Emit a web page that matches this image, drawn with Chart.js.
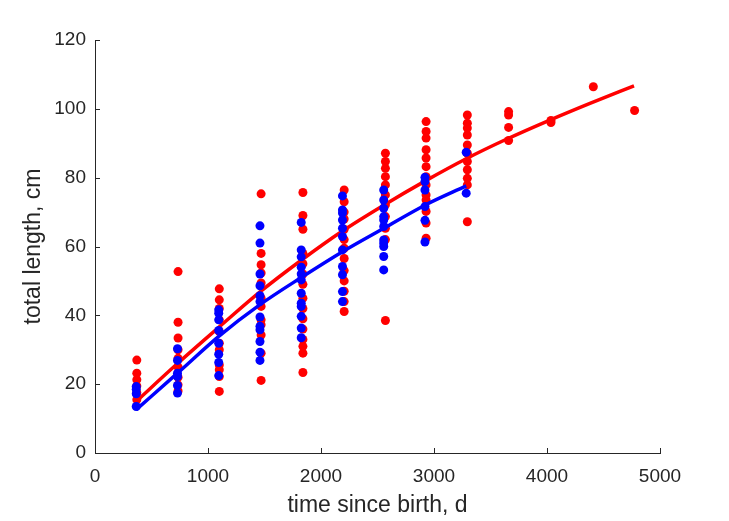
<!DOCTYPE html>
<html lang="en">
<head>
<meta charset="UTF-8">
<title>Total length vs time since birth</title>
<script src="https://cdn.jsdelivr.net/npm/chart.js"></script>
<style>
    html, body { margin: 0; padding: 0; background: #fff; }
    #wrap { width: 729px; height: 521px; }
</style>
</head>
<body>
<div id="wrap"><canvas id="growthChart"></canvas></div>
<script>
// sampling ages (days) and measured lengths (cm), one inner list per age
const redAges = [370, 735, 1100, 1470, 1840, 2205, 2570, 2930, 3295, 3660, 4035, 4410, 4775];
const redLengths = [
    [27, 23.2, 21.3, 19.5, 17.5, 15.5],
    [52.7, 38, 33.4, 30, 27.5, 25, 22, 19.8, 18],
    [47.7, 44.5, 42, 38.7, 35.3, 31.9, 30, 25.6, 24.2, 22.2, 17.9],
    [75.3, 58, 54.7, 52.3, 49.4, 45, 42.6, 38.7, 37.3, 34.3, 29, 21.1],
    [75.7, 69, 65, 58, 55, 52, 49, 45, 42, 39, 36, 33, 31, 29, 23.4],
    [76.4, 73, 70, 68, 65, 62, 59.5, 56.5, 53, 50, 47, 44, 41.1],
    [87.1, 84.7, 82.7, 80.3, 77.9, 75, 72.1, 68.7, 65.3, 62, 38.5],
    [96.3, 93.4, 91.5, 88.1, 85.7, 83.2, 80.3, 77.9, 75, 73.5, 70.2, 66.8, 62.4],
    [98.2, 95.8, 94.4, 92.4, 89.5, 87.1, 84.7, 82.3, 79.8, 77.9, 67.2],
    [99.2, 98.2, 94.6, 90.8],
    [96.6, 96],
    [106.4],
    [99.5]
];
const blueAges = [365, 730, 1095, 1460, 1825, 2190, 2555, 2920, 3285];
const blueLengths = [
    [19.3, 18.5, 17.2, 13.5],
    [30.3, 26.9, 23.2, 22.2, 19.6, 17.4],
    [41.6, 40.6, 38.7, 35.6, 31.9, 28.7, 26.3, 22.5],
    [66, 61, 52, 48.6, 45.7, 44, 39.5, 36.8, 35.8, 32.4, 29.3, 26.9],
    [67, 59, 57, 54, 52, 50.3, 46.4, 43.5, 42.6, 39.7, 36.3, 33.5],
    [74.7, 70.6, 69.7, 67.7, 65.3, 62.9, 59, 54.2, 51.8, 46.9, 44],
    [76.4, 73.5, 71.1, 68.7, 67.7, 65.8, 61.9, 61, 60, 57.1, 53.2],
    [80.1, 78.9, 76.4, 71.6, 67.6, 61.3],
    [87.4, 75.5]
];

// fitted growth curves
const redFitAges = [365, 730, 1095, 1460, 1825, 2190, 2555, 2920, 3285, 3650, 4015, 4380, 4770];
const redFit = [15, 26, 36.5, 46.8, 56, 64.5, 72, 79, 85.5, 91.3, 96.6, 101.6, 106.7];
const blueFitAges = [365, 730, 1095, 1460, 1825, 2190, 2555, 2920, 3285];
const blueFit = [12.6, 23.2, 33.9, 43.1, 51, 58.5, 65.3, 72, 77.6];

const xTicks = [0, 1000, 2000, 3000, 4000, 5000];
const yTicks = [0, 20, 40, 60, 80, 100, 120];

function points(ages, lists) {
    const out = [];
    ages.forEach((a, i) => lists[i].forEach(v => out.push({x: a, y: v})));
    return out;
}
function curve(ages, vals) {
    return ages.map((a, i) => ({x: a, y: vals[i]}));
}

const axisColor = '#262626';
const fontFamily = 'Liberation Sans, Arial, sans-serif';

// MATLAB style ticks pointing into the axes
const inwardTicks = {
    id: 'inwardTicks',
    afterDraw(chart) {
        const ctx = chart.ctx;
        const xs = chart.scales.x, ys = chart.scales.y;
        const len = 5;
        ctx.save();
        ctx.strokeStyle = axisColor;
        ctx.lineWidth = 1;
        ctx.beginPath();
        xTicks.forEach(t => {
            const px = Math.round(xs.getPixelForValue(t)) + 0.5;
            ctx.moveTo(px, ys.bottom);
            ctx.lineTo(px, ys.bottom - len);
        });
        yTicks.forEach(t => {
            const py = Math.round(ys.getPixelForValue(t)) + 0.5;
            ctx.moveTo(xs.left, py);
            ctx.lineTo(xs.left + len, py);
        });
        ctx.stroke();
        ctx.restore();
    }
};

new Chart(document.getElementById('growthChart'), {
    type: 'scatter',
    data: {
        datasets: [
            {
                data: points(redAges, redLengths),
                backgroundColor: '#ff0000',
                borderColor: '#ff0000',
                pointRadius: 4.5,
                pointBorderWidth: 0,
                order: 4
            },
            {
                type: 'line',
                data: curve(redFitAges, redFit),
                borderColor: '#ff0000',
                borderWidth: 3.5,
                pointRadius: 0,
                fill: false,
                cubicInterpolationMode: 'monotone',
                order: 3
            },
            {
                data: points(blueAges, blueLengths),
                backgroundColor: '#0000ff',
                borderColor: '#0000ff',
                pointRadius: 4.5,
                pointBorderWidth: 0,
                order: 2
            },
            {
                type: 'line',
                data: curve(blueFitAges, blueFit),
                borderColor: '#0000ff',
                borderWidth: 3.5,
                pointRadius: 0,
                fill: false,
                cubicInterpolationMode: 'monotone',
                order: 1
            }
        ]
    },
    options: {
        responsive: true,
        maintainAspectRatio: false,
        animation: false,
        layout: { padding: { top: 40, right: 69, bottom: 0, left: 0 } },
        plugins: { legend: { display: false }, tooltip: { enabled: false } },
        scales: {
            x: {
                type: 'linear',
                min: 0,
                max: 5000,
                afterBuildTicks: s => { s.ticks = xTicks.map(v => ({value: v})); },
                afterFit: s => { s.height = 68; },
                grid: { drawOnChartArea: false, drawTicks: false },
                border: { color: axisColor, width: 1 },
                ticks: {
                    color: axisColor,
                    padding: 12,
                    font: { family: fontFamily, size: 19 },
                    maxRotation: 0,
                    callback: v => String(v)
                },
                title: {
                    display: true,
                    text: 'time since birth, d',
                    color: axisColor,
                    font: { family: fontFamily, size: 23 },
                    padding: { top: 0, bottom: 2 }
                }
            },
            y: {
                type: 'linear',
                min: 0,
                max: 120,
                afterBuildTicks: s => { s.ticks = yTicks.map(v => ({value: v})); },
                afterFit: s => { s.width = 95; },
                grid: { drawOnChartArea: false, drawTicks: false },
                border: { color: axisColor, width: 1 },
                ticks: {
                    color: axisColor,
                    padding: 9,
                    font: { family: fontFamily, size: 19 },
                    callback: v => String(v)
                },
                title: {
                    display: true,
                    text: 'total length, cm',
                    color: axisColor,
                    font: { family: fontFamily, size: 23 },
                    padding: { top: 20, bottom: 0 }
                }
            }
        }
    },
    plugins: [inwardTicks]
});
</script>
</body>
</html>
